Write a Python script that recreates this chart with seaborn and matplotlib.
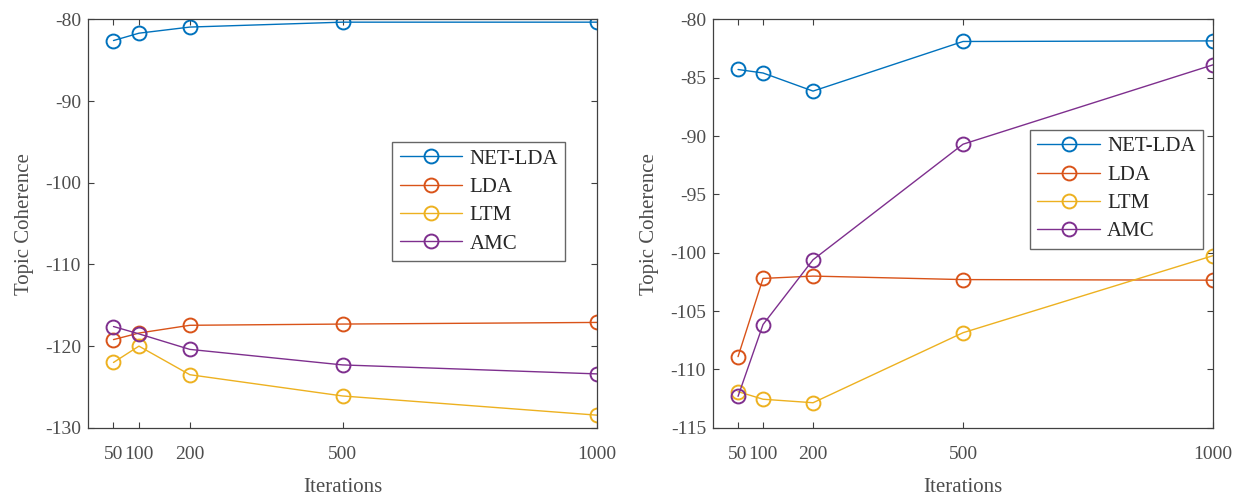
import matplotlib
matplotlib.use('Agg')
import numpy as np
import pandas as pd
import seaborn as sns
import matplotlib.pyplot as plt

# iteration counts on the x axis
iterations = [50, 100, 200, 500, 1000]
methods = ["NET-LDA", "LDA", "LTM", "AMC"]

# left panel values
left_net_lda = [-82.6, -81.7, -80.95, -80.35, -80.35]
left_lda = [-119.2, -118.4, -117.45, -117.3, -117.1]
left_ltm = [-122.0, -120.0, -123.5, -126.1, -128.45]
left_amc = [-117.6, -118.5, -120.4, -122.3, -123.4]

# right panel values
right_net_lda = [-84.3, -84.6, -86.15, -81.9, -81.85]
right_lda = [-108.9, -102.2, -102.0, -102.3, -102.35]
right_ltm = [-111.9, -112.55, -112.85, -106.85, -100.25]
right_amc = [-112.3, -106.15, -100.6, -90.7, -83.9]

colors = ["#0072BD", "#D95319", "#EDB120", "#7E2F8E"]

sns.set_style("white")
plt.rcParams['font.family'] = ['Liberation Serif', 'DejaVu Serif']
plt.rcParams['axes.unicode_minus'] = False
text_color = "#4d4d4d"


def long_form(series):
    rows = []
    for name, vals in zip(methods, series):
        for it, v in zip(iterations, vals):
            rows.append({"Iterations": it, "Topic Coherence": v, "method": name})
    return pd.DataFrame(rows)


def draw_panel(ax, df, ylim, yticks, legend_anchor):
    for name, col in zip(methods, colors):
        sub = df[df["method"] == name]
        sns.lineplot(data=sub, x="Iterations", y="Topic Coherence", ax=ax,
                     color=col, marker="o", markersize=10,
                     markerfacecolor="none", markeredgecolor=col,
                     markeredgewidth=1.4, linewidth=1.0, label=name)
    ax.set_xlim(0, 1000)
    ax.set_ylim(*ylim)
    ax.set_xticks(iterations)
    ax.set_xticklabels([str(i) for i in iterations])
    ax.set_yticks(yticks)
    ax.tick_params(direction="in", length=4, width=0.8, colors="#404040",
                   labelcolor=text_color, labelsize=14,
                   top=True, right=True, bottom=True, left=True)
    ax.tick_params(axis="x", pad=13)
    ax.tick_params(axis="y", pad=5)
    for s in ax.spines.values():
        s.set_color("#404040")
        s.set_linewidth(0.9)
    ax.set_xlabel("Iterations", fontsize=15, color=text_color, labelpad=11)
    ax.set_ylabel("Topic Coherence", fontsize=15, color=text_color, labelpad=8)
    leg = ax.legend(loc="upper left", bbox_to_anchor=legend_anchor,
                    fontsize=15, frameon=True, fancybox=False,
                    edgecolor="#404040", borderpad=0.35, handlelength=3.0,
                    handletextpad=0.35, labelspacing=0.42, borderaxespad=0)
    leg.get_frame().set_linewidth(1.0)
    for t in leg.get_texts():
        t.set_color("#262626")


fig = plt.figure(figsize=(12.33, 4.95), dpi=100)
ax1 = fig.add_axes([0.0714, 0.1357, 0.4128, 0.8253])
ax2 = fig.add_axes([0.5783, 0.1357, 0.4055, 0.8253])

left_df = long_form([left_net_lda, left_lda, left_ltm, left_amc])
right_df = long_form([right_net_lda, right_lda, right_ltm, right_amc])

draw_panel(ax1, left_df, (-130, -80), np.arange(-130, -79, 10), (0.598, 0.70))
draw_panel(ax2, right_df, (-115, -80), np.arange(-115, -79, 5), (0.634, 0.73))

fig.savefig("out.png", dpi=100)
